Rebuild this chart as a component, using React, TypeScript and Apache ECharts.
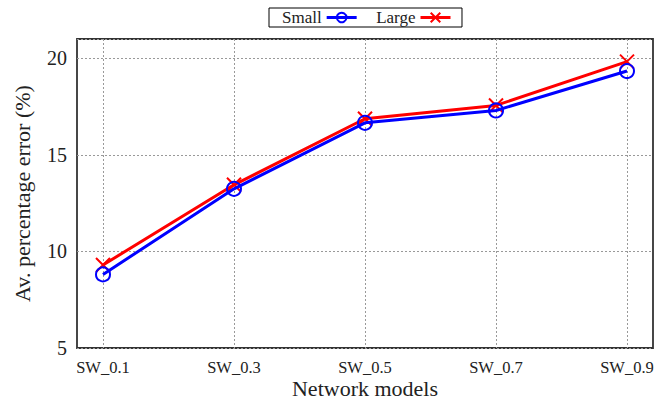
import React, { useEffect, useRef } from "react";
import * as echarts from "echarts";

const categories = ["SW_0.1", "SW_0.3", "SW_0.5", "SW_0.7", "SW_0.9"];
const smallValues = [8.81, 13.24, 16.66, 17.3, 19.34];
const largeValues = [9.3, 13.45, 16.87, 17.56, 19.83];
const yTicks = [5, 10, 15, 20];

const FONT = "'Liberation Serif', 'Times New Roman', serif";
const CROSS = "path://M0,0L10,10M10,0L0,10";

export default function App() {
  const ref = useRef<HTMLDivElement>(null);
  useEffect(() => {
    if (!ref.current) return;
    const chart = echarts.init(ref.current, null, { renderer: "svg" });
    chart.setOption({
      animation: false,
      backgroundColor: "#fff",
      textStyle: { fontFamily: FONT },
      legend: {
        top: 8,
        left: 269,
        align: "right",
        orient: "horizontal",
        padding: [1, 10, 1, 13],
        borderColor: "#000",
        borderWidth: 1,
        backgroundColor: "#fff",
        itemWidth: 30,
        itemHeight: 12,
        itemGap: 18,
        textStyle: { fontFamily: FONT, fontSize: 17, color: "#222" },
        data: [
          { name: "Small", itemStyle: { color: "rgba(0,0,0,0)", borderColor: "#0000ff", borderWidth: 2 }, lineStyle: { color: "#0000ff", width: 3 } },
          { name: "Large", itemStyle: { color: "#ff0000", borderColor: "#ff0000", borderWidth: 2 }, lineStyle: { color: "#ff0000", width: 3 } },
        ],
      },
      grid: [
        { left: 77, right: 1, top: 39, bottom: 53, show: true, borderColor: "#333", borderWidth: 1.8, backgroundColor: "transparent", outerBoundsMode: "none", containLabel: false },
        { left: 103, right: 27, top: 39, bottom: 53, outerBoundsMode: "none", containLabel: false },
      ],
      xAxis: [
        { type: "value", gridIndex: 0, show: false, min: 0, max: 1 },
        {
          type: "category",
          gridIndex: 1,
          data: categories,
          boundaryGap: false,
          name: "Network models",
          nameLocation: "middle",
          nameGap: 29,
          nameMoveOverlap: false,
          nameTextStyle: { fontFamily: FONT, fontSize: 22, color: "#222", lineHeight: 22 },
          axisLine: { show: false },
          axisTick: { show: false },
          axisLabel: { fontFamily: FONT, fontSize: 16.5, color: "#222", margin: 11 },
          splitLine: { show: true, lineStyle: { color: "#999", type: [2, 2], width: 1 } },
        },
      ],
      yAxis: [
        {
          type: "value",
          gridIndex: 0,
          min: 5,
          max: 21,
          interval: 5,
          name: "Av. percentage error (%)",
          nameLocation: "middle",
          nameGap: 44,
          nameMoveOverlap: false,
          nameTextStyle: { fontFamily: FONT, fontSize: 22, color: "#222" },
          axisLine: { show: false },
          axisTick: { show: false },
          axisLabel: {
            fontFamily: FONT,
            fontSize: 20,
            color: "#222",
            margin: 10,
            formatter: (v: number) => (yTicks.includes(v) ? String(v) : ""),
          },
          splitLine: { show: true, lineStyle: { color: "#999", type: [2, 2], width: 1 } },
        },
        { type: "value", gridIndex: 1, show: false, min: 5, max: 21 },
      ],
      series: [
        {
          name: "Small",
          type: "line",
          xAxisIndex: 1,
          yAxisIndex: 1,
          data: smallValues,
          symbol: "circle",
          symbolSize: 14,
          lineStyle: { color: "#0000ff", width: 3 },
          itemStyle: { color: "rgba(0,0,0,0)", borderColor: "#0000ff", borderWidth: 2 },
          z: 3,
        },
        {
          name: "Large",
          type: "line",
          xAxisIndex: 1,
          yAxisIndex: 1,
          data: largeValues,
          symbol: CROSS,
          symbolSize: 14,
          lineStyle: { color: "#ff0000", width: 3 },
          itemStyle: { color: "#ff0000", borderColor: "#ff0000", borderWidth: 2 },
          z: 2,
        },
      ],
    });
    return () => chart.dispose();
  }, []);
  return <div ref={ref} style={{ width: 654, height: 401, position: "absolute", left: 0, top: 0 }} />;
}
